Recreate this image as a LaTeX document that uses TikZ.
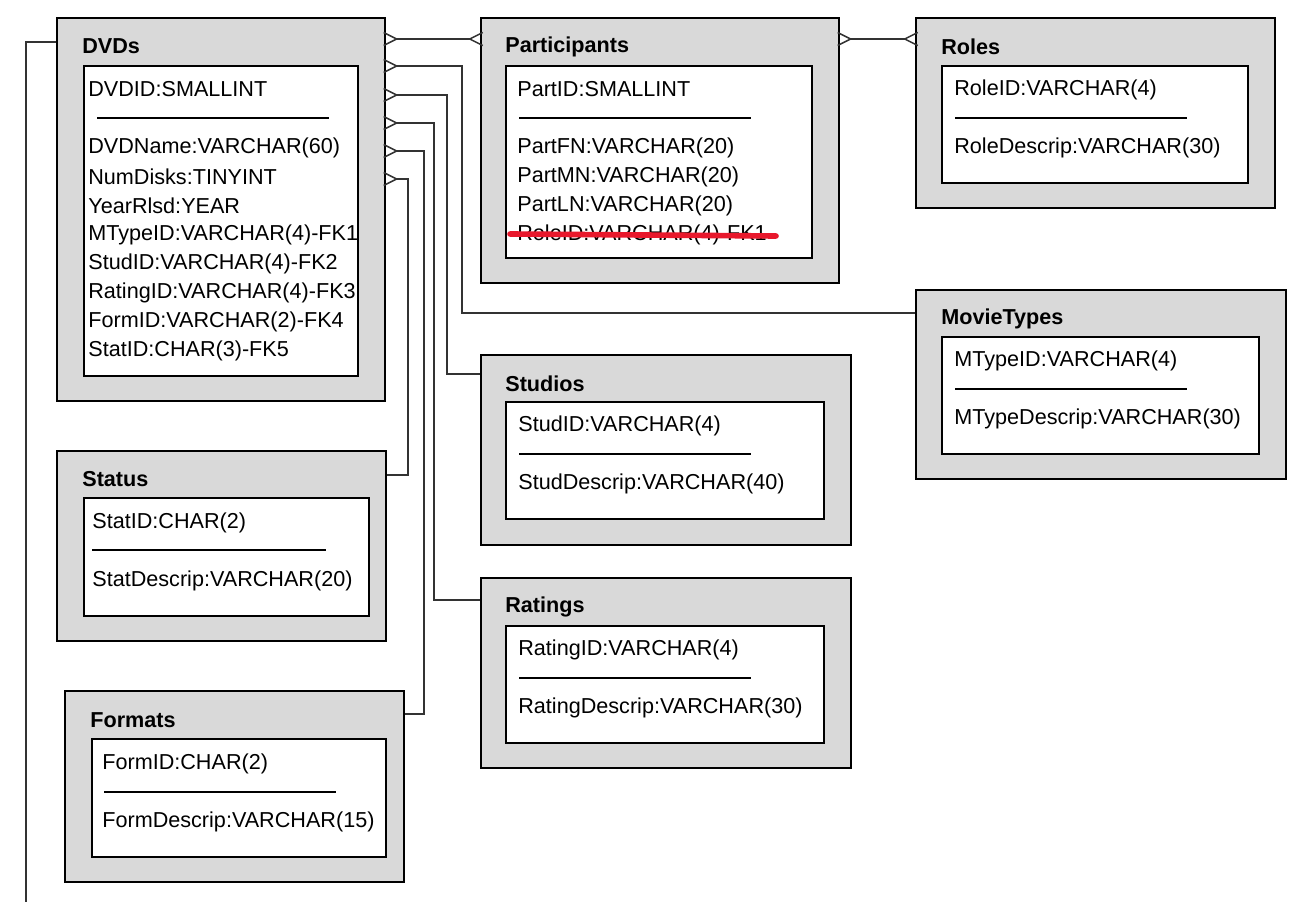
\documentclass[tikz,border=0pt]{standalone}
\usepackage{fontspec}
\setmainfont{Liberation Sans}
\usetikzlibrary{arrows.meta}

\definecolor{tblgray}{RGB}{217,217,217}
\definecolor{strikered}{RGB}{232,24,44}

\tikzset{crow/.tip={Straight Barb[reversed, length=0.26cm, width=0.26cm]}}

\begin{document}
\begin{tikzpicture}[
        x=0.02cm, y=-0.02cm,
        outer/.style={rectangle, draw, line width=1.4pt, fill=tblgray, anchor=north west, inner sep=0pt},
        inner/.style={rectangle, draw, line width=1.4pt, fill=white, anchor=north west, inner sep=0pt},
        ttl/.style={anchor=west, inner sep=0pt, yshift=-0.05cm, font=\fontsize{12.3}{15}\selectfont\bfseries},
        fld/.style={anchor=west, inner sep=0pt, yshift=-0.05cm, font=\fontsize{12.3}{15}\selectfont},
        sep/.style={line width=0.9pt},
        rel/.style={line width=0.85pt, black!80},
        crowend/.style={shorten <=-0.07cm}
    ]
        \useasboundingbox (0,0) rectangle (1296,902);

        % DVDs
        \node[outer, minimum width=6.56cm, minimum height=7.66cm] (dvds) at (56,17) {};
        \node[inner, minimum width=5.48cm, minimum height=6.2cm] (dvds-in) at (83,65) {};
        \node[ttl] (dvds-t) at (82,44) {DVDs};
        \node[fld] (dvds-k) at (88,87) {DVDID:SMALLINT};
        \draw[sep] (97,118) -- (329,118);
        \foreach \f [count=\i] in {{DVDName:VARCHAR(60)}, {NumDisks:TINYINT}, {YearRlsd:YEAR},
            {MTypeID:VARCHAR(4)-FK1}, {StudID:VARCHAR(4)-FK2}, {RatingID:VARCHAR(4)-FK3},
            {FormID:VARCHAR(2)-FK4}, {StatID:CHAR(3)-FK5}}
            \node[fld] (dvds-f\i) at (88,116+29*\i) {\f};

        % Participants
        \node[outer, minimum width=7.16cm, minimum height=5.3cm] (parts) at (480,17) {};
        \node[inner, minimum width=6.12cm, minimum height=3.84cm] (parts-in) at (505,65) {};
        \node[ttl] (parts-t) at (505,44) {Participants};
        \node[fld] (parts-k) at (517,87) {PartID:SMALLINT};
        \draw[sep] (519,118) -- (751,118);
        \node[fld] (parts-f1) at (517,145) {PartFN:VARCHAR(20)};
        \node[fld] (parts-f2) at (517,174) {PartMN:VARCHAR(20)};
        \node[fld] (parts-f3) at (517,203) {PartLN:VARCHAR(20)};
        \node[fld] (parts-f4) at (517,232) {RoleID:VARCHAR(4)-FK1};
        \draw[strikered, line width=3.2pt, line cap=round] (510,234) -- (776,236);

        % Roles
        \node[outer, minimum width=7.18cm, minimum height=3.8cm] (roles) at (915,17) {};
        \node[inner, minimum width=6.12cm, minimum height=2.34cm] (roles-in) at (941,65) {};
        \node[ttl] (roles-t) at (941,44) {Roles};
        \node[fld] (roles-k) at (954,87) {RoleID:VARCHAR(4)};
        \draw[sep] (955,118) -- (1187,118);
        \node[fld] (roles-f1) at (954,145) {RoleDescrip:VARCHAR(30)};

        % MovieTypes
        \node[outer, minimum width=7.4cm, minimum height=3.78cm] (mtypes) at (915,289) {};
        \node[inner, minimum width=6.34cm, minimum height=2.34cm] (mtypes-in) at (941,336) {};
        \node[ttl] (mtypes-t) at (941,316) {MovieTypes};
        \node[fld] (mtypes-k) at (954,358) {MTypeID:VARCHAR(4)};
        \draw[sep] (955,389) -- (1187,389);
        \node[fld] (mtypes-f1) at (954,416) {MTypeDescrip:VARCHAR(30)};

        % Studios
        \node[outer, minimum width=7.4cm, minimum height=3.8cm] (studios) at (480,354) {};
        \node[inner, minimum width=6.36cm, minimum height=2.34cm] (studios-in) at (505,401) {};
        \node[ttl] (studios-t) at (505,381) {Studios};
        \node[fld] (studios-k) at (518,423) {StudID:VARCHAR(4)};
        \draw[sep] (519,454) -- (751,454);
        \node[fld] (studios-f1) at (518,481) {StudDescrip:VARCHAR(40)};

        % Ratings
        \node[outer, minimum width=7.4cm, minimum height=3.8cm] (ratings) at (480,577) {};
        \node[inner, minimum width=6.36cm, minimum height=2.34cm] (ratings-in) at (505,625) {};
        \node[ttl] (ratings-t) at (505,604) {Ratings};
        \node[fld] (ratings-k) at (518,647) {RatingID:VARCHAR(4)};
        \draw[sep] (519,678) -- (751,678);
        \node[fld] (ratings-f1) at (518,705) {RatingDescrip:VARCHAR(30)};

        % Status
        \node[outer, minimum width=6.58cm, minimum height=3.8cm] (status) at (56,450) {};
        \node[inner, minimum width=5.7cm, minimum height=2.36cm] (status-in) at (83,497) {};
        \node[ttl] (status-t) at (82,477) {Status};
        \node[fld] (status-k) at (92,520) {StatID:CHAR(2)};
        \draw[sep] (92,550) -- (326,550);
        \node[fld] (status-f1) at (92,578) {StatDescrip:VARCHAR(20)};

        % Formats
        \node[outer, minimum width=6.78cm, minimum height=3.82cm] (formats) at (64,690) {};
        \node[inner, minimum width=5.88cm, minimum height=2.36cm] (formats-in) at (91,738) {};
        \node[ttl] (formats-t) at (90,718) {Formats};
        \node[fld] (formats-k) at (102,761) {FormID:CHAR(2)};
        \draw[sep] (104,792) -- (336,792);
        \node[fld] (formats-f1) at (102,819) {FormDescrip:VARCHAR(15)};

        % Relationships
        \draw[rel, crowend, shorten >=-0.07cm, {crow}-{crow}] (dvds.east |- 0,39) -- (parts.west |- 0,39);
        \draw[rel, crowend, shorten >=-0.07cm, {crow}-{crow}] (parts.east |- 0,39) -- (roles.west |- 0,39);
        \draw[rel, crowend, {crow}-] (dvds.east |- 0,66) -| (462,313) -- (mtypes.west |- 0,313);
        \draw[rel, crowend, {crow}-] (dvds.east |- 0,95) -| (447,374) -- (studios.west |- 0,374);
        \draw[rel, crowend, {crow}-] (dvds.east |- 0,123) -| (434,600) -- (ratings.west |- 0,600);
        \draw[rel, crowend, {crow}-] (dvds.east |- 0,151) -| (424,714) -- (formats.east |- 0,714);
        \draw[rel, crowend, {crow}-] (dvds.east |- 0,179) -| (408,475) -- (status.east |- 0,475);

        % line leaving the page
        \coordinate (offpage) at (26,902);
        \draw[rel] (dvds.west |- 0,42) -| (offpage);
    \end{tikzpicture}
\end{document}
